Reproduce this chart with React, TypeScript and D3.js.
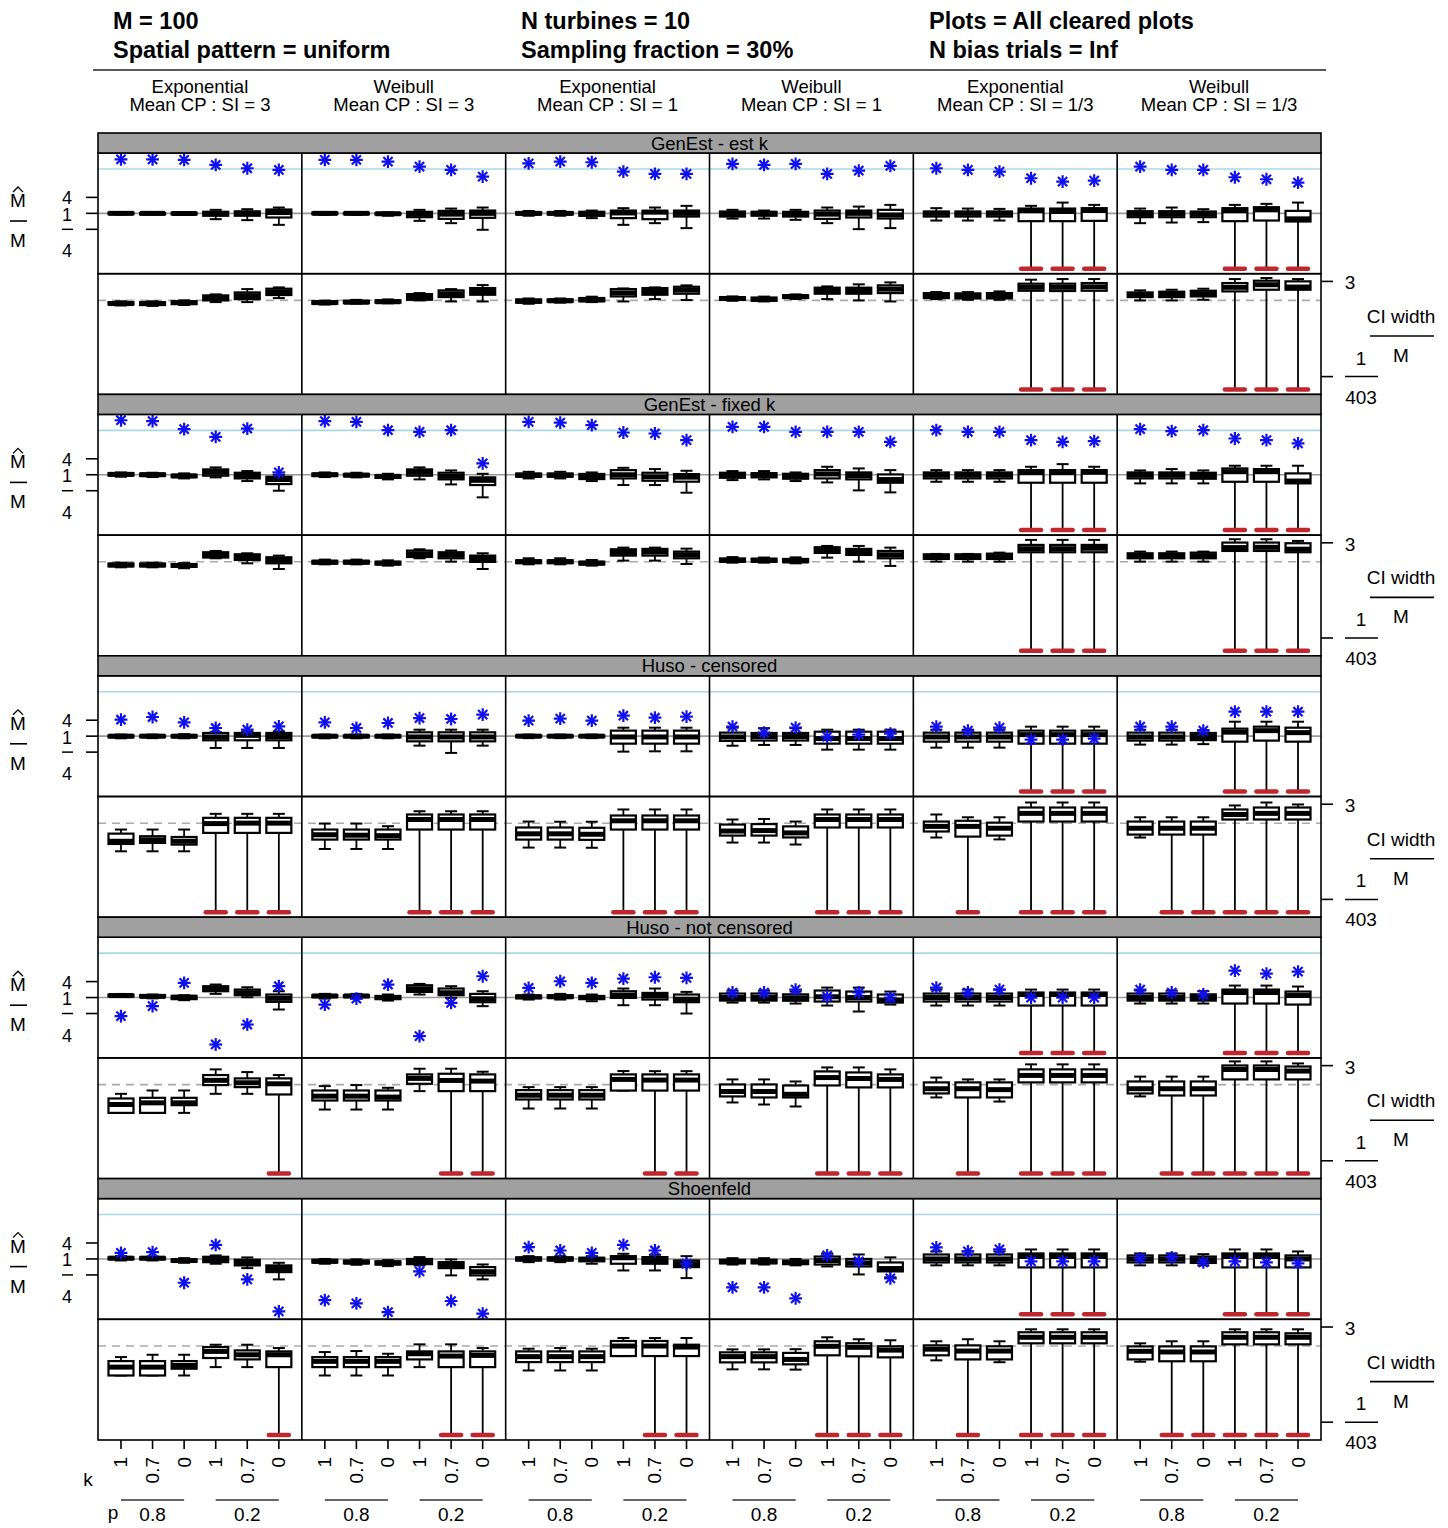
import React from 'react';
import * as d3 from 'd3';

// ---------- labels ----------
const HEADER: string[][] = [
  ['M = 100', 'Spatial pattern = uniform'],
  ['N turbines = 10', 'Sampling fraction = 30%'],
  ['Plots = All cleared plots', 'N bias trials = Inf'],
];
const COLUMNS: string[][] = [
  ['Exponential', 'Mean CP : SI = 3'],
  ['Weibull', 'Mean CP : SI = 3'],
  ['Exponential', 'Mean CP : SI = 1'],
  ['Weibull', 'Mean CP : SI = 1'],
  ['Exponential', 'Mean CP : SI = 1/3'],
  ['Weibull', 'Mean CP : SI = 1/3'],
];
const ROW_TITLES = ['GenEst - est k', 'GenEst - fixed k', 'Huso - censored', 'Huso - not censored', 'Shoenfeld'];
const K_LABELS = ['1', '0.7', '0', '1', '0.7', '0'];
const P_LABELS = ['0.8', '0.2'];

// value below the plotted range (drawn as a red mark at the panel bottom)
const B = -Infinity;

// reference values (log2 units)
const BIAS_TICKS = [2, 0, -2];          // 4, 1, 1/4
const BIAS_CAP = 5.56;                  // light blue line
const CI_TICKS = [Math.log2(3), Math.log2(1 / 403)];
const CI_REF = -0.46;                   // dashed reference

// ---------- data: boxes are [lo, q1, median, q3, hi] in log2 units ----------
// bias panels: log2(Mhat / M); CI panels: log2(CI width / M)
const biasEstK = [
  [[-0.15,-0.1,0,0.1,0.15],[-0.15,-0.1,0,0.05,0.12],[-0.2,-0.12,-0.02,0.08,0.15],[-0.73,-0.3,-0.05,0.2,0.44],[-0.85,-0.3,0,0.25,0.52],[-1.44,-0.52,0.1,0.48,0.73]],
  [[-0.2,-0.1,0,0.1,0.15],[-0.2,-0.1,0,0.08,0.15],[-0.3,-0.15,-0.05,0.05,0.12],[-0.94,-0.48,-0.1,0.19,0.44],[-1.23,-0.69,-0.1,0.31,0.6],[-2.06,-0.56,0,0.35,0.73]],
  [[-0.3,-0.15,0,0.15,0.3],[-0.3,-0.15,0,0.15,0.3],[-0.6,-0.3,-0.1,0.2,0.35],[-1.44,-0.6,0.05,0.35,0.65],[-1.23,-0.73,0.15,0.31,0.73],[-1.85,-0.4,0,0.35,0.94]],
  [[-0.65,-0.4,-0.1,0.23,0.44],[-0.65,-0.3,0,0.19,0.35],[-0.81,-0.4,-0.05,0.19,0.44],[-1.23,-0.69,-0.1,0.35,0.73],[-1.98,-0.52,0,0.35,0.85],[-1.85,-0.65,-0.2,0.44,1.06]],
  [[-0.9,-0.4,0,0.23,0.65],[-0.9,-0.4,0,0.23,0.6],[-0.9,-0.4,0,0.23,0.56],[B,-0.98,0.31,0.6,0.94],[B,-0.98,0.23,0.6,1.35],[B,-0.94,0.35,0.65,1.06]],
  [[-1.23,-0.48,-0.1,0.27,0.6],[-1.15,-0.48,-0.05,0.27,0.73],[-1.1,-0.48,-0.05,0.23,0.52],[B,-0.98,0.31,0.65,1.06],[B,-0.9,0.44,0.77,1.19],[B,-1.02,-0.69,0.31,1.35]],
];
const ciEstK = [
  [[-1.0,-0.9,-0.8,-0.65,-0.55],[-1.05,-0.95,-0.8,-0.65,-0.55],[-0.95,-0.85,-0.7,-0.55,-0.45],[-0.64,-0.46,-0.2,0.08,0.19],[-0.64,-0.32,0.05,0.4,0.76],[-0.21,0.12,0.45,0.8,0.94]],
  [[-0.9,-0.82,-0.7,-0.56,-0.48],[-0.8,-0.75,-0.65,-0.5,-0.4],[-0.77,-0.7,-0.6,-0.45,-0.35],[-0.46,-0.39,-0.1,0.22,0.33],[-0.57,-0.1,0.25,0.62,0.76],[-0.57,0.15,0.5,0.87,1.19]],
  [[-0.82,-0.7,-0.55,-0.35,-0.25],[-0.7,-0.6,-0.5,-0.35,-0.25],[-0.64,-0.55,-0.4,-0.2,-0.06],[-0.57,-0.03,0.35,0.76,0.83],[-0.32,0.15,0.5,0.87,0.94],[-0.42,0.26,0.65,1.01,1.16]],
  [[-0.5,-0.4,-0.25,-0.1,-0.03],[-0.57,-0.5,-0.35,-0.15,-0.05],[-0.3,-0.2,-0.05,0.1,0.19],[-0.32,0.26,0.6,0.91,1.05],[-0.46,0.26,0.6,0.91,1.27],[-0.57,0.33,0.75,1.16,1.48]],
  [[-0.32,-0.21,0.05,0.33,0.44],[-0.39,-0.25,0,0.3,0.44],[-0.39,-0.25,0.05,0.33,0.51],[B,0.58,0.95,1.34,1.77],[B,0.55,0.95,1.34,1.84],[B,0.58,1.0,1.41,1.84]],
  [[-0.46,-0.1,0.15,0.4,0.62],[-0.46,-0.1,0.2,0.48,0.69],[-0.39,-0.03,0.25,0.58,0.8],[B,0.51,0.95,1.41,1.84],[B,0.69,1.23,1.66,1.95],[B,0.69,0.98,1.59,1.84]],
];
const meanEstK = [
  [6.77,6.77,6.69,6.06,5.65,5.44],
  [6.69,6.69,6.48,5.85,5.44,4.6],
  [6.27,6.48,6.4,5.23,4.94,4.94],
  [6.19,6.06,6.19,4.94,5.35,5.94],
  [5.65,5.44,5.23,4.4,3.98,4.1],
  [5.85,5.44,5.44,4.52,4.27,3.85],
];

const biasFixedK = [
  [[-0.25,-0.1,0.05,0.2,0.29],[-0.29,-0.15,0,0.15,0.25],[-0.46,-0.3,-0.15,0,0.17],[-0.33,-0.12,0.3,0.67,0.92],[-0.79,-0.46,-0.1,0.25,0.46],[-2.0,-1.17,-0.6,-0.25,0]],
  [[-0.29,-0.15,0,0.15,0.29],[-0.33,-0.2,-0.05,0.1,0.25],[-0.58,-0.4,-0.2,-0.05,0.12],[-0.58,-0.12,0.3,0.67,0.92],[-1.21,-0.58,-0.2,0.25,0.54],[-2.83,-1.29,-0.7,-0.33,0.12]],
  [[-0.46,-0.25,-0.05,0.15,0.37],[-0.46,-0.25,-0.05,0.15,0.37],[-0.79,-0.54,-0.2,0.1,0.29],[-1.29,-0.46,0,0.58,0.87],[-1.29,-0.75,-0.25,0.25,0.71],[-2.25,-0.87,-0.3,0.08,0.5]],
  [[-0.67,-0.38,-0.1,0.25,0.46],[-0.58,-0.33,-0.05,0.2,0.46],[-0.79,-0.5,-0.2,0.12,0.29],[-0.96,-0.46,0.1,0.58,1.0],[-1.96,-0.58,-0.1,0.29,0.79],[-2.21,-1.0,-0.6,0.04,0.58]],
  [[-0.88,-0.46,-0.05,0.29,0.58],[-0.88,-0.46,-0.05,0.29,0.58],[-0.88,-0.46,-0.05,0.29,0.58],[B,-1.0,0.25,0.58,1.0],[B,-1.0,0.25,0.58,1.33],[B,-1.0,0.3,0.58,1.0]],
  [[-1.08,-0.46,-0.05,0.29,0.54],[-1.08,-0.46,-0.05,0.29,0.71],[-1.08,-0.5,-0.1,0.25,0.54],[B,-0.88,0.38,0.79,1.13],[B,-0.88,0.38,0.71,1.13],[B,-1.08,-0.79,0.17,1.13]],
];
const ciFixedK = [
  [[-1.05,-0.95,-0.8,-0.65,-0.55],[-1.05,-0.95,-0.8,-0.65,-0.55],[-1.15,-1.0,-0.85,-0.7,-0.6],[-0.08,0.0,0.3,0.57,0.71],[-0.62,-0.26,0.05,0.35,0.46],[-1.23,-0.62,-0.3,0.03,0.21]],
  [[-0.73,-0.65,-0.5,-0.35,-0.22],[-0.73,-0.65,-0.5,-0.35,-0.22],[-0.87,-0.75,-0.6,-0.45,-0.3],[-0.08,0.06,0.4,0.75,0.89],[-0.44,-0.08,0.25,0.57,0.75],[-1.23,-0.47,-0.1,0.21,0.46]],
  [[-0.73,-0.6,-0.45,-0.3,-0.08],[-0.73,-0.6,-0.45,-0.3,-0.08],[-0.87,-0.75,-0.6,-0.45,-0.26],[-0.33,0.21,0.55,0.89,1.07],[-0.33,0.21,0.6,0.93,1.07],[-0.69,-0.08,0.3,0.64,0.96]],
  [[-0.55,-0.45,-0.3,-0.1,0.05],[-0.55,-0.45,-0.3,-0.12,0.0],[-0.62,-0.5,-0.35,-0.15,0.02],[-0.01,0.5,0.8,1.11,1.25],[-0.44,0.28,0.6,0.93,1.25],[-0.9,-0.08,0.3,0.71,1.07]],
  [[-0.44,-0.15,0.1,0.35,0.39],[-0.44,-0.15,0.1,0.35,0.39],[-0.44,-0.15,0.1,0.42,0.53],[B,0.57,0.95,1.36,1.9],[B,0.57,0.95,1.36,1.9],[B,0.57,1.0,1.36,1.9]],
  [[-0.44,-0.08,0.2,0.46,0.64],[-0.44,-0.08,0.2,0.46,0.64],[-0.44,-0.08,0.2,0.53,0.64],[B,0.71,1.07,1.61,1.97],[B,0.71,1.1,1.61,1.97],[B,0.57,0.9,1.54,1.79]],
];
const meanFixedK = [
  [6.83,6.71,5.71,4.75,5.79,0.29],
  [6.71,6.63,5.58,5.38,5.58,1.42],
  [6.63,6.54,6.21,5.29,5.17,4.33],
  [6.0,6.0,5.38,5.38,5.38,4.13],
  [5.58,5.38,5.38,4.33,4.13,4.21],
  [5.71,5.46,5.58,4.54,4.33,3.92],
];

const biasCens = [
  [[-0.27,-0.15,0,0.1,0.2],[-0.25,-0.12,0,0.1,0.2],[-0.27,-0.15,0,0.12,0.25],[-1.48,-0.52,-0.1,0.4,0.5],[-1.48,-0.52,0.1,0.4,0.6],[-1.48,-0.52,-0.05,0.4,0.6]],
  [[-0.27,-0.15,0,0.1,0.2],[-0.27,-0.15,0,0.1,0.2],[-0.27,-0.15,0,0.1,0.2],[-1.19,-0.65,-0.1,0.48,0.81],[-2.1,-0.65,-0.1,0.48,0.81],[-1.19,-0.65,-0.1,0.48,0.81]],
  [[-0.25,-0.12,0,0.1,0.2],[-0.25,-0.12,0,0.1,0.2],[-0.25,-0.12,0,0.1,0.2],[-1.94,-0.94,-0.1,0.69,1.06],[-1.9,-0.94,-0.1,0.69,1.06],[-1.9,-0.94,-0.1,0.69,1.06]],
  [[-1.2,-0.6,-0.1,0.44,1.06],[-1.1,-0.55,-0.05,0.4,1.0],[-1.1,-0.55,-0.05,0.4,1.0],[-1.69,-0.94,-0.3,0.56,0.81],[-1.69,-0.94,-0.3,0.56,0.81],[-1.69,-0.94,-0.3,0.56,0.81]],
  [[-1.44,-0.69,-0.1,0.44,0.81],[-1.44,-0.69,-0.1,0.44,0.81],[-1.44,-0.69,-0.1,0.44,0.81],[B,-0.94,0.19,0.69,1.19],[B,-0.94,0.19,0.69,1.19],[B,-0.94,0.19,0.69,1.19]],
  [[-1.06,-0.56,-0.1,0.44,0.81],[-1.06,-0.56,-0.1,0.44,0.81],[-1.0,-0.5,-0.05,0.4,0.75],[B,-0.69,0.5,0.94,1.81],[B,-0.56,0.69,1.19,1.81],[B,-0.69,0.44,1.06,1.81]],
];
const ciCens = [
  [[-3.48,-2.69,-2.4,-1.58,-1.14],[-3.48,-2.58,-2.25,-1.86,-1.14],[-3.48,-2.76,-2.4,-1.94,-1.14],[B,-1.5,-0.5,0.12,0.55],[B,-1.5,-0.45,0.12,0.55],[B,-1.5,-0.45,0.12,0.55]],
  [[-3.23,-2.22,-1.7,-1.14,-0.5],[-3.23,-2.22,-1.75,-1.14,-0.5],[-3.23,-2.22,-1.8,-1.14,-0.78],[B,-1.14,-0.06,0.48,0.83],[B,-1.14,-0.06,0.48,0.83],[B,-1.14,-0.06,0.48,0.83]],
  [[-3.08,-2.22,-1.6,-0.92,-0.28],[-3.08,-2.22,-1.6,-0.92,-0.3],[-3.1,-2.25,-1.65,-0.95,-0.3],[B,-1.14,-0.2,0.37,1.02],[B,-1.14,-0.2,0.37,1.02],[B,-1.14,-0.2,0.37,1.02]],
  [[-2.54,-1.79,-1.3,-0.6,-0.06],[-2.54,-1.79,-1.25,-0.55,0.0],[-2.75,-1.99,-1.5,-0.8,-0.28],[B,-0.92,-0.06,0.48,1.02],[B,-0.92,-0.06,0.48,1.02],[B,-0.92,-0.06,0.48,1.02]],
  [[-2.0,-1.35,-0.8,-0.28,0.48],[B,-1.9,-0.8,-0.2,0.18],[-2.2,-1.79,-1.0,-0.4,0.18],[B,-0.28,0.6,1.23,1.77],[B,-0.28,0.6,1.23,1.77],[B,-0.28,0.6,1.23,1.77]],
  [[-2.0,-1.68,-1.0,-0.28,0.18],[B,-1.68,-1.0,-0.28,0.18],[B,-1.68,-1.0,-0.28,0.18],[B,-0.06,0.48,1.02,1.45],[B,-0.06,0.6,1.23,1.77],[B,-0.06,0.6,1.23,1.56]],
];
const meanCens = [
  [2.06,2.4,1.73,1.02,0.81,1.23],
  [1.73,1.02,1.65,2.27,2.15,2.69],
  [1.94,2.19,1.94,2.56,2.31,2.44],
  [1.19,0.44,1.06,-0.06,0.19,0.31],
  [1.19,0.69,1.06,-0.44,-0.44,-0.31],
  [1.19,1.19,0.69,3.06,3.06,3.06],
];

const biasNoCens = [
  [[0.1,0.2,0.25,0.35,0.45],[-0.1,0.05,0.15,0.3,0.38],[-0.33,-0.2,0.05,0.2,0.29],[0.46,0.79,1.1,1.42,1.63],[0.04,0.29,0.6,1.0,1.29],[-1.5,-0.54,-0.1,0.38,0.79]],
  [[-0.13,0.05,0.2,0.3,0.46],[-0.13,0.05,0.2,0.3,0.46],[-0.38,-0.2,0,0.2,0.38],[0.38,0.71,1.1,1.54,1.71],[-0.04,0.29,0.6,1.13,1.42],[-1.08,-0.58,-0.15,0.46,0.79]],
  [[-0.25,-0.1,0.1,0.25,0.38],[-0.25,-0.05,0.1,0.3,0.46],[-0.46,-0.2,0,0.2,0.38],[-0.96,-0.04,0.3,0.79,1.13],[-0.96,-0.25,0.2,0.58,1.13],[-2.0,-0.58,-0.2,0.38,0.71]],
  [[-0.63,-0.38,0,0.5,0.88],[-0.63,-0.38,0,0.5,0.88],[-0.75,-0.4,-0.05,0.4,0.75],[-1.0,-0.5,0.1,0.88,1.25],[-1.75,-0.5,0,0.75,1.25],[-0.88,-0.63,-0.3,0.38,0.75]],
  [[-1.0,-0.5,0,0.5,1.0],[-1.0,-0.5,0,0.5,1.0],[-1.0,-0.5,0,0.5,1.0],[B,-1.0,0.38,0.63,1.0],[B,-1.0,0.38,0.63,1.0],[B,-1.0,0.38,0.63,1.0]],
  [[-0.75,-0.38,0,0.5,0.88],[-0.75,-0.38,0,0.5,0.88],[-0.75,-0.38,0,0.4,0.8],[B,-0.75,0.63,1.0,1.5],[B,-0.75,0.63,1.0,1.5],[B,-0.88,0.25,0.75,1.38]],
];
const ciNoCens = [
  [[-3.5,-3.5,-2.6,-1.95,-1.45],[-3.5,-3.5,-2.42,-1.88,-1.09],[-3.5,-2.67,-2.42,-1.88,-1.09],[-1.45,-0.51,0.0,0.57,1.18],[-1.45,-0.73,-0.26,0.21,0.89],[B,-1.52,-0.37,0.21,0.57]],
  [[-3.14,-2.17,-1.7,-1.09,-0.62],[-3.14,-2.17,-1.7,-1.09,-0.51],[-3.14,-2.17,-1.8,-1.09,-0.8],[-1.16,-0.37,0.21,0.64,1.25],[B,-1.16,-0.01,0.71,1.25],[B,-1.16,-0.08,0.64,0.93]],
  [[-3.03,-2.06,-1.6,-1.05,-0.73],[-3.03,-2.06,-1.6,-1.05,-0.73],[-3.03,-2.06,-1.6,-1.05,-0.73],[-1.1,-1.1,0.1,0.64,1.0],[B,-1.1,0.03,0.64,0.99],[B,-1.1,0.03,0.64,0.99]],
  [[-2.38,-1.73,-1.2,-0.44,0.1],[-2.6,-1.84,-1.2,-0.44,0.1],[-2.81,-1.84,-1.5,-0.55,-0.12],[B,-0.55,0.3,0.96,1.39],[B,-0.76,0.2,0.85,1.39],[B,-0.76,0.1,0.64,1.18]],
  [[-1.84,-1.41,-0.9,-0.22,0.3],[B,-1.84,-0.9,-0.22,0.1],[-2.28,-1.84,-1.0,-0.22,0.1],[B,-0.22,0.53,1.18,1.72],[B,-0.22,0.53,1.18,1.72],[B,-0.22,0.53,1.18,1.72]],
  [[-1.73,-1.41,-0.9,-0.12,0.4],[B,-1.63,-0.9,-0.12,0.4],[B,-1.63,-0.9,-0.12,0.4],[B,0.1,1.17,1.6,2.04],[B,0.1,1.17,1.6,2.04],[B,0.1,1.0,1.49,1.82]],
];
const meanNoCens = [
  [-2.33,-1.08,1.83,-5.88,-3.38,1.42],
  [-0.88,-0.13,1.63,-4.83,-0.67,2.67],
  [1.21,2.04,1.83,2.38,2.54,2.46],
  [0.63,0.63,1.0,0.13,0.63,0.0],
  [1.25,0.63,1.0,0,0,0],
  [1.0,0.63,0.38,3.38,3.0,3.25],
];

const biasShoen = [
  [[-0.19,-0.05,0.1,0.2,0.35],[-0.19,-0.05,0.1,0.2,0.3],[-0.48,-0.35,-0.2,-0.05,0.1],[-0.6,-0.4,0,0.27,0.44],[-1.15,-0.81,-0.45,-0.1,0.19],[-2.56,-1.65,-1.2,-0.81,-0.48]],
  [[-0.6,-0.45,-0.3,-0.1,0.0],[-0.73,-0.55,-0.4,-0.2,-0.05],[-0.9,-0.7,-0.5,-0.3,-0.15],[-0.81,-0.65,-0.3,0,0.23],[-2.06,-1.15,-0.7,-0.4,-0.06],[-2.56,-2.06,-1.6,-1.02,-0.69]],
  [[-0.4,-0.2,0,0.2,0.35],[-0.4,-0.2,0,0.2,0.35],[-0.6,-0.3,-0.05,0.15,0.35],[-1.44,-0.6,0.15,0.35,0.65],[-1.44,-0.6,-0.2,0.23,0.52],[-2.4,-1.02,-0.6,-0.19,0.35]],
  [[-0.7,-0.55,-0.35,-0.1,0.1],[-0.7,-0.55,-0.35,-0.1,0.1],[-0.8,-0.65,-0.45,-0.2,0.0],[-0.94,-0.7,-0.2,0.3,0.69],[-1.94,-0.94,-0.5,0.0,0.56],[-2.3,-1.56,-1.2,-0.44,0.2]],
  [[-0.8,-0.44,0,0.56,0.94],[-0.8,-0.44,0,0.56,0.94],[-0.8,-0.44,0,0.56,0.94],[B,-1.06,0.31,0.69,1.19],[B,-1.06,0.31,0.69,1.19],[B,-1.06,0.31,0.69,1.19]],
  [[-0.8,-0.44,0,0.44,0.69],[-0.8,-0.44,0,0.44,0.69],[-0.8,-0.5,-0.1,0.3,0.6],[B,-1.06,0.31,0.69,1.19],[B,-1.06,0.31,0.69,1.19],[B,-1.06,0.0,0.44,0.94]],
];
const ciShoen = [
  [[-3.63,-3.63,-2.73,-2.08,-1.65],[-3.63,-3.63,-2.73,-2.08,-1.4],[-3.63,-2.9,-2.55,-2.08,-1.4],[-2.73,-1.75,-1.04,-0.57,-0.32],[-2.73,-1.9,-1.4,-0.93,-0.32],[B,-2.73,-1.4,-1.04,-0.68]],
  [[-3.63,-2.73,-2.11,-1.65,-1.11],[-3.63,-2.73,-2.11,-1.65,-1.0],[-3.63,-2.73,-2.11,-1.65,-1.29],[-2.73,-1.9,-1.29,-1.04,-0.28],[B,-2.73,-1.54,-1.04,-0.28],[B,-2.73,-1.47,-1.04,-0.68]],
  [[-3.09,-2.19,-1.6,-1.04,-0.75],[-3.09,-2.19,-1.6,-1.04,-0.68],[-3.09,-2.19,-1.6,-1.04,-0.75],[-1.54,-1.54,-0.46,0.08,0.4],[B,-1.54,-0.46,0.08,0.4],[B,-1.54,-0.57,-0.32,0.4]],
  [[-2.97,-2.22,-1.6,-1.14,-0.82],[-2.97,-2.22,-1.6,-1.14,-0.82],[-3.0,-2.43,-1.9,-1.2,-0.8],[B,-1.46,-0.49,0.05,0.48],[B,-1.57,-0.6,-0.16,0.27],[B,-1.68,-0.9,-0.49,0.16]],
  [[-2.0,-1.46,-0.8,-0.39,0.05],[B,-1.9,-1.0,-0.39,0.27],[-2.2,-1.9,-1.0,-0.49,0.05],[B,-0.17,0.48,1.02,1.34],[B,-0.17,0.48,1.02,1.34],[B,-0.17,0.48,1.02,1.34]],
  [[-2.15,-1.9,-1.03,-0.5,-0.17],[B,-2.1,-1.1,-0.5,0.05],[B,-2.1,-1.1,-0.5,0.05],[B,-0.28,0.48,1.02,1.34],[B,-0.28,0.48,1.02,1.34],[B,-0.28,0.48,0.91,1.34]],
];
const meanShoen = [
  [0.77,0.85,-2.98,1.77,-2.56,-6.56],
  [-5.15,-5.56,-6.65,-1.56,-5.27,-6.85],
  [1.48,1.06,0.77,1.77,1.06,-0.6],
  [-3.56,-3.56,-4.94,0.44,-0.31,-2.44],
  [1.44,0.94,1.19,-0.31,-0.31,-0.31],
  [0.06,0.19,-0.44,-0.31,-0.44,-0.56],
];

const BIAS = [biasEstK, biasFixedK, biasCens, biasNoCens, biasShoen];
const CI = [ciEstK, ciFixedK, ciCens, ciNoCens, ciShoen];
const MEANS = [meanEstK, meanFixedK, meanCens, meanNoCens, meanShoen];

// ---------- layout ----------
const W = 1448, H = 1528;
const PL = 98, PR = 1321;
const TOP = 133, BOTTOM = 1440;
const STRIP = 20;
const FONT = '"Liberation Sans", Arial, Helvetica, sans-serif';
const RED = '#c0272d';
const BLUE = '#1010ee';

const colX = d3.scaleBand<number>().domain(d3.range(6)).range([PL, PR]).paddingInner(0).paddingOuter(0);
const groupY = d3.scaleBand<number>().domain(d3.range(5)).range([TOP, BOTTOM]);

function boxX(c: number) {
  const x0 = colX(c) as number;
  return d3.scaleLinear().domain([0.272, 6.728]).range([x0, x0 + colX.bandwidth()]);
}

function Asterisk({ x, y }: { x: number; y: number }) {
  const r = 6.4, d = r * 0.72;
  return (
    <g stroke={BLUE} strokeWidth={2.2}>
      <line x1={x - r} y1={y} x2={x + r} y2={y} />
      <line x1={x} y1={y - r} x2={x} y2={y + r} />
      <line x1={x - d} y1={y - d} x2={x + d} y2={y + d} />
      <line x1={x - d} y1={y + d} x2={x + d} y2={y - d} />
    </g>
  );
}

function BoxMark({ x, s, y, bottom }: { x: number; s: number[]; y: d3.ScaleLinear<number, number>; bottom: number }) {
  const [lo, q1, med, q3, hi] = s;
  const bw = 25, cw = 12;
  const yq1 = y(q1), yq3 = y(q3), ym = y(med), yhi = y(hi);
  const below = !isFinite(lo);
  const redY = bottom - 5;
  const ylo = below ? redY : y(lo);
  const top = Math.min(yq1, yq3);
  const hgt = Math.max(Math.abs(yq1 - yq3), 1.5);
  return (
    <g>
      <line x1={x} x2={x} y1={yhi} y2={yq3} stroke="#000" strokeWidth={1.8} />
      <line x1={x} x2={x} y1={yq1} y2={ylo} stroke="#000" strokeWidth={1.8} />
      <line x1={x - cw / 2} x2={x + cw / 2} y1={yhi} y2={yhi} stroke="#000" strokeWidth={2} />
      {!below && <line x1={x - cw / 2} x2={x + cw / 2} y1={ylo} y2={ylo} stroke="#000" strokeWidth={2} />}
      <rect x={x - bw / 2} y={top} width={bw} height={hgt} fill="#fff" stroke="#000" strokeWidth={2.2} />
      <line x1={x - bw / 2} x2={x + bw / 2} y1={ym} y2={ym} stroke="#000" strokeWidth={5} />
      {below && <line x1={x - 10} x2={x + 10} y1={redY} y2={redY} stroke={RED} strokeWidth={4.5} strokeLinecap="round" />}
    </g>
  );
}

function Group({ g }: { g: number }) {
  const yS = groupY(g) as number;
  const gh = groupY.bandwidth();
  const ph = (gh - STRIP) / 2;
  const bTop = yS + STRIP, bBot = bTop + ph;
  const cTop = bBot, cBot = yS + gh;
  const yBias = d3.scaleLinear().domain([-7.56, 7.56]).range([bBot, bTop]);
  const yCI = d3.scaleLinear().domain([-10.57, 2.415]).range([cBot, cTop]);
  const clipB = `clipB${g}`;
  return (
    <g>
      <defs>
        <clipPath id={clipB}><rect x={PL} y={bTop} width={PR - PL} height={ph} /></clipPath>
      </defs>
      {/* reference lines */}
      <line x1={PL} x2={PR} y1={yBias(BIAS_CAP)} y2={yBias(BIAS_CAP)} stroke="#a8d8e8" strokeWidth={1.6} />
      <line x1={PL} x2={PR} y1={yBias(0)} y2={yBias(0)} stroke="#999" strokeWidth={1.6} />
      <line x1={PL} x2={PR} y1={yCI(CI_REF)} y2={yCI(CI_REF)} stroke="#aaa" strokeWidth={1.6} strokeDasharray="8,6" />
      {d3.range(6).map(c => {
        const xs = boxX(c);
        return (
          <g key={c}>
            {BIAS[g][c].map((s, i) => <BoxMark key={'b' + i} x={xs(i + 1)} s={s} y={yBias} bottom={bBot} />)}
            {CI[g][c].map((s, i) => <BoxMark key={'c' + i} x={xs(i + 1)} s={s} y={yCI} bottom={cBot} />)}
            <g clipPath={`url(#${clipB})`}>
              {MEANS[g][c].map((v, i) => <Asterisk key={'m' + i} x={xs(i + 1)} y={yBias(v)} />)}
            </g>
          </g>
        );
      })}
      {/* panel frames */}
      <rect x={PL} y={bTop} width={PR - PL} height={ph} fill="none" stroke="#000" strokeWidth={1.6} />
      <rect x={PL} y={cTop} width={PR - PL} height={ph} fill="none" stroke="#000" strokeWidth={1.6} />
      {d3.range(1, 6).map(c => (
        <line key={c} x1={colX(c) as number} x2={colX(c) as number} y1={bTop} y2={cBot} stroke="#000" strokeWidth={1.6} />
      ))}
      {/* strip */}
      <rect x={PL} y={yS} width={PR - PL} height={STRIP} fill="#a0a0a0" stroke="#000" strokeWidth={1.6} />
      <text x={(PL + PR) / 2} y={yS + 16.5} textAnchor="middle" fontSize={18.5} fontFamily={FONT}>{ROW_TITLES[g]}</text>
      {/* left axis (bias) */}
      {BIAS_TICKS.map(t => (
        <line key={t} x1={86} x2={PL} y1={yBias(t)} y2={yBias(t)} stroke="#000" strokeWidth={1.6} />
      ))}
      <g fontSize={18} fontFamily={FONT} textAnchor="middle">
        <text x={67} y={yBias(2) + 7}>4</text>
        <text x={67} y={yBias(0) + 7.5}>1</text>
        <line x1={62} x2={73} y1={yBias(-2)} y2={yBias(-2)} stroke="#000" strokeWidth={1.5} />
        <text x={67} y={yBias(-2) + 28}>4</text>
      </g>
      <g fontSize={19} fontFamily={FONT} textAnchor="middle">
        <path d={`M13,${yS + 59} L18,${yS + 54} L23,${yS + 59}`} fill="none" stroke="#000" strokeWidth={1.3} />
        <text x={18} y={yS + 74}>M</text>
        <line x1={10} x2={27} y1={yS + 88} y2={yS + 88} stroke="#000" strokeWidth={1.6} />
        <text x={18} y={yS + 114}>M</text>
      </g>
      {/* right axis (CI) */}
      {CI_TICKS.map(t => (
        <line key={t} x1={PR} x2={1333} y1={yCI(t)} y2={yCI(t)} stroke="#000" strokeWidth={1.6} />
      ))}
      <g fontSize={19} fontFamily={FONT} textAnchor="middle">
        <text x={1350} y={yCI(CI_TICKS[0]) + 8}>3</text>
        <text x={1361} y={yCI(CI_TICKS[1]) - 12}>1</text>
        <line x1={1345} x2={1378} y1={yCI(CI_TICKS[1])} y2={yCI(CI_TICKS[1])} stroke="#000" strokeWidth={1.5} />
        <text x={1361} y={yCI(CI_TICKS[1]) + 27}>403</text>
        <text x={1401} y={yS + 190}>CI width</text>
        <line x1={1370} x2={1434} y1={yS + 203} y2={yS + 203} stroke="#000" strokeWidth={1.6} />
        <text x={1401} y={yS + 229}>M</text>
      </g>
    </g>
  );
}

export default function App() {
  const headerX = [113, 521, 929];
  return (
    <svg width={W} height={H} viewBox={`0 0 ${W} ${H}`} style={{ position: 'absolute', left: 0, top: 0, background: '#fff' }} fontFamily={FONT}>
      <rect x={0} y={0} width={W} height={H} fill="#fff" />
      {HEADER.map((lines, i) => (
        <g key={i} fontWeight="bold" fontSize={23.5}>
          <text x={headerX[i]} y={28.5}>{lines[0]}</text>
          <text x={headerX[i]} y={57.5}>{lines[1]}</text>
        </g>
      ))}
      <line x1={93} x2={1326} y1={70} y2={70} stroke="#222" strokeWidth={1.6} />
      {COLUMNS.map((lines, c) => {
        const cx = (colX(c) as number) + colX.bandwidth() / 2;
        return (
          <g key={c} fontSize={18.5} textAnchor="middle">
            <text x={cx} y={93}>{lines[0]}</text>
            <text x={cx} y={111}>{lines[1]}</text>
          </g>
        );
      })}
      {d3.range(5).map(g => <Group key={g} g={g} />)}
      {/* bottom axis */}
      {d3.range(6).map(c => {
        const xs = boxX(c);
        return (
          <g key={c}>
            {K_LABELS.map((k, i) => (
              <g key={i}>
                <line x1={xs(i + 1)} x2={xs(i + 1)} y1={BOTTOM} y2={BOTTOM + 9} stroke="#000" strokeWidth={1.6} />
                <text transform={`translate(${xs(i + 1) + 6.5},1457) rotate(-90)`} textAnchor="end" fontSize={19}>{k}</text>
              </g>
            ))}
            {P_LABELS.map((p, j) => (
              <g key={p}>
                <line x1={xs(j * 3 + 1)} x2={xs(j * 3 + 3)} y1={1500} y2={1500} stroke="#333" strokeWidth={1.6} />
                <text x={xs(j * 3 + 2)} y={1521} textAnchor="middle" fontSize={19}>{p}</text>
              </g>
            ))}
          </g>
        );
      })}
      <text x={88} y={1486} textAnchor="middle" fontSize={19}>k</text>
      <text x={113} y={1519} textAnchor="middle" fontSize={19}>p</text>
    </svg>
  );
}
